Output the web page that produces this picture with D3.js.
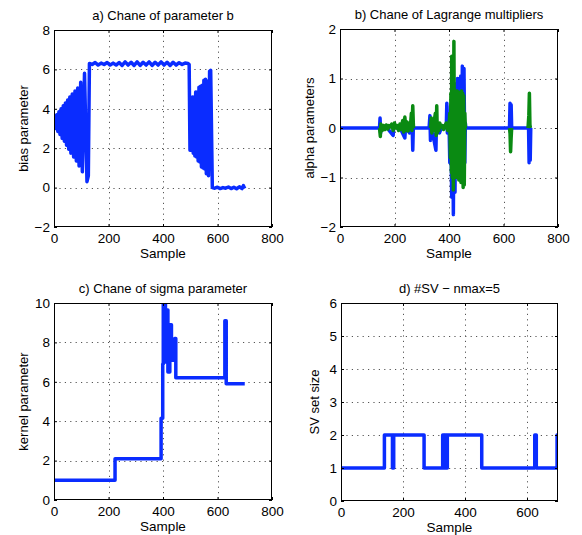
<!DOCTYPE html>
<html>
<head>
<meta charset="utf-8">
<script src="https://cdn.jsdelivr.net/npm/d3@7"></script>
<style>
  body { margin: 0; background: #fff; }
  text { font-family: "Liberation Sans", Arial, Helvetica, sans-serif; fill: #000; }
</style>
</head>
<body>
<script>
"use strict";

// a) bias parameter b
let aX = [0, 3, 6, 10, 14, 18, 22, 26, 30, 34, 38, 42, 46, 50, 54, 58, 62, 67, 72, 77, 82, 87, 92, 98, 104, 112, 121, 126, 130,
  140, 151, 162, 173, 184, 195, 206, 217, 228, 239, 250, 261, 272, 283, 294, 305, 316, 327, 338, 349, 360, 371, 382, 393,
  404, 415, 426, 437, 448, 459, 470, 481, 492, 496,
  499, 502, 505, 508, 511, 514, 517, 520, 523, 526, 529, 532, 535, 538, 541, 544, 547, 550, 553, 556, 559, 563, 567, 571, 575, 581,
  590, 600, 610, 620, 630, 640, 650, 660, 670, 680, 690, 695, 700];
let aY = [3.3, 3.55, 3.0, 3.7, 2.85, 3.85, 2.7, 4.0, 2.5, 4.15, 2.35, 4.3, 2.15, 4.45, 1.95, 4.6, 1.75, 4.75, 1.55, 4.9, 1.35, 5.05, 1.1, 5.35, 0.8, 5.8, 0.3, 0.6, 6.3,
  6.25, 6.35, 6.22, 6.32, 6.25, 6.35, 6.22, 6.32, 6.22, 6.35, 6.2, 6.38, 6.22, 6.36, 6.2, 6.38, 6.2, 6.36, 6.22, 6.38, 6.2, 6.36, 6.22, 6.38,
  6.22, 6.36, 6.2, 6.36, 6.22, 6.34, 6.25, 6.32, 6.3, 6.25,
  1.9, 4.5, 1.9, 4.6, 1.75, 4.6, 1.6, 4.85, 1.55, 4.85, 1.35, 5.1, 1.3, 5.15, 1.05, 5.2, 1.0, 5.45, 0.95, 5.5, 0.7, 5.4, 0.6, 5.9, 5.95, 0.0,
  -0.03, 0.02, -0.05, 0.0, -0.03, 0.03, -0.05, 0.02, -0.06, 0.04, -0.05, 0.1, -0.05];

// b) Lagrange multipliers, two series (null = no value)
let bX1 = [0, 145, 147, 149, 151, 175, 180, 195, 197, 210, 225, 238, 241, 255, 265, 267, 269, 327, 330, 332, 335, 340, 352, 354,
  365, 375, 390, 392, 394, 400, 403, 406, 410, 413, 416, 419, 422, 425, 428, 431, 434, 437, 440, 443, 446, 449, 452, 455, 458,
  460, 462, 622, 624, 626, 628, 630, 692, 694, 696, 698, 700];
let bY1 = [0, 0, 0.2, -0.1, 0, 0.03, -0.05, -0.15, 0.05, 0, -0.05, -0.2, 0.05, -0.1, 0, -0.45, 0, 0, 0.25, -0.25, 0.1, -0.1, -0.45, 0.1,
  -0.1, 0.05, 0, 0.5, -0.1, 0.1, -0.7, 0.45, -1.4, 0.9, -1.75, 0.9, -1.3, 0.8, -0.9, 1.0, -0.8, 1.0, -0.9, 1.05, -0.8, 1.25, -0.9, 1.2, -0.7,
  0.1, 0, 0, 0.5, -0.1, 0.47, 0, 0, -0.7, 0.05, -0.65, 0];
let bX2 = [145, 148, 150, 155, 160, 165, 170, 175, 180, 185, 190, 195, 200, 205, 210, 215, 220, 225, 230, 234, 238, 242, 246, 250,
  254, 258, 262, 264, 267, 269, 270, 271,
  332, 335, 337, 340, 343, 346, 350, 353, 355, 357, 360, 363, 366, 370, 375, 380, 385, 390, 395, 400, 403, 405, 407, 409, 410,
  412, 414, 416, 418, 420, 422, 424, 426, 428, 430, 432, 434, 436, 438, 440, 442, 444, 446, 448, 450, 452, 454, 456, 458, 460, 461,
  622, 624, 626, 628, 630, 631,
  690, 693, 695, 697, 699];
let bY2 = [0, -0.17, 0.08, -0.05, 0.05, -0.03, 0.06, -0.02, 0.05, 0.02, 0.08, -0.05, 0.1, 0.0, 0.05, -0.05, 0.08, -0.03, 0.15, -0.08,
  0.22, -0.05, 0.12, -0.06, 0.1, 0.0, 0.3, -0.05, 0.45, 0.1, 0, null,
  0, 0.2, -0.1, 0.1, -0.05, 0.15, 0.3, -0.15, 0.45, -0.1, 0.1, -0.05, 0.1, 0.02, 0.05, -0.03, 0.05, 0.1, -0.05, 0.05, 0.3, -0.6,
  0.7, -0.9, 1.45, -1.0, 0.7, -1.25, 1.75, -0.9, 0.75, -1.0, 0.7, -0.95, 0.75, -1.0, 0.7, -1.05, 0.72, -1.0, 0.7, -1.1, 0.75, -1.05,
  0.7, -1.2, 0.65, -1.15, 0.3, 0, null,
  0, -0.1, -0.48, -0.2, 0, null,
  0, 0.25, 0.7, 0.05, 0];

// c) kernel parameter sigma (step values)
let cX = [0, 224, 393, 399, 401, 409, 412, 418, 425, 431, 443, 447, 627, 632, 700];
let cY = [1, 2.1, 4.15, 6.9, 10, 7.0, 9.65, 6.5, 8.9, 7.1, 8.2, 6.2, 9.1, 5.9, 5.9];

// d) SV set size (step values)
let dX = [0, 140, 166, 170, 268, 328, 332, 336, 339, 343, 454, 625, 630, 697, 700];
let dY = [1, 2, 1, 2, 1, 2, 1, 2, 1, 2, 1, 2, 1, 2, 2];

let ticksX800 = [0, 200, 400, 600, 800];
let ticksX700 = [0, 200, 400, 600];
let ticksA = [-2, 0, 2, 4, 6, 8];
let ticksB = [-2, -1, 0, 1, 2];
let ticksC = [0, 2, 4, 6, 8, 10];
let ticksD = [0, 1, 2, 3, 4, 5, 6];

const BLUE = "#0a2cff";
const GREEN = "#0a8a12";

let svg = d3.select("body").append("svg")
  .attr("width", 582)
  .attr("height", 535);

function toPts(xs, ys) {
  return xs.map((v, i) => ({ x: v, y: ys[i] }));
}

let panel = (cfg) => {
  let x = d3.scaleLinear().domain(cfg.xDomain).range([cfg.left, cfg.right]);
  let y = d3.scaleLinear().domain(cfg.yDomain).range([cfg.bottom, cfg.top]);
  let w = cfg.right - cfg.left, h = cfg.bottom - cfg.top;
  let g = svg.append("g");

  // dotted grid
  let grid = g.append("g").attr("stroke", "#555").attr("stroke-width", 1).attr("stroke-dasharray", "1.2,4.2");
  grid.selectAll(".gx").data(cfg.xTicks.filter(t => t > cfg.xDomain[0] && t < cfg.xDomain[1])).enter()
    .append("line")
    .attr("x1", d => Math.round(x(d)) + 0.5).attr("x2", d => Math.round(x(d)) + 0.5)
    .attr("y1", cfg.top).attr("y2", cfg.bottom);
  grid.selectAll(".gy").data(cfg.yTicks.filter(t => t > cfg.yDomain[0] && t < cfg.yDomain[1])).enter()
    .append("line")
    .attr("y1", d => Math.round(y(d)) + 0.5).attr("y2", d => Math.round(y(d)) + 0.5)
    .attr("x1", cfg.left).attr("x2", cfg.right);

  let clipId = "clip-" + cfg.name;
  g.append("clipPath").attr("id", clipId)
    .append("rect").attr("x", cfg.left).attr("y", cfg.top).attr("width", w).attr("height", h);

  let line = d3.line()
    .defined(d => d.y != null)
    .x(d => x(d.x)).y(d => y(d.y))
    .curve(cfg.step ? d3.curveStepAfter : d3.curveLinear);

  cfg.series.forEach((s) => {
    g.append("path")
      .datum(toPts(s.xs, s.ys))
      .attr("clip-path", "url(#" + clipId + ")")
      .attr("fill", "none")
      .attr("stroke", s.color)
      .attr("stroke-width", 3.5)
      .attr("stroke-linejoin", "round")
      .attr("d", line);
  });

  // axes, ticks inward on all sides
  let fmt = d3.format("");
  let bottom = g.append("g").attr("transform", `translate(0,${cfg.bottom})`)
    .call(d3.axisBottom(x).tickValues(cfg.xTicks).tickSizeInner(-3).tickSizeOuter(0).tickPadding(6).tickFormat(fmt));
  let left = g.append("g").attr("transform", `translate(${cfg.left},0)`)
    .call(d3.axisLeft(y).tickValues(cfg.yTicks).tickSizeInner(-3).tickSizeOuter(0).tickPadding(4).tickFormat(fmt));
  let top = g.append("g").attr("transform", `translate(0,${cfg.top})`)
    .call(d3.axisTop(x).tickValues(cfg.xTicks).tickSizeInner(-3).tickSizeOuter(0).tickFormat(""));
  let right = g.append("g").attr("transform", `translate(${cfg.right},0)`)
    .call(d3.axisRight(y).tickValues(cfg.yTicks).tickSizeInner(-3).tickSizeOuter(0).tickFormat(""));
  [bottom, left, top, right].forEach((a) => {
    a.select(".domain").remove();
    a.selectAll("text").style("font-size", "13.5px").style("font-family", "Liberation Sans, Arial, sans-serif");
  });

  g.append("rect")
    .attr("x", cfg.left + 0.5).attr("y", cfg.top + 0.5)
    .attr("width", w - 1).attr("height", h - 1)
    .attr("fill", "none").attr("stroke", "#000").attr("stroke-width", 1);

  g.append("text")
    .attr("x", (cfg.left + cfg.right) / 2).attr("y", cfg.top - 10.5)
    .attr("text-anchor", "middle").style("font-size", "13px")
    .text(cfg.title);
  g.append("text")
    .attr("x", (cfg.left + cfg.right) / 2).attr("y", cfg.bottom + 31)
    .attr("text-anchor", "middle").style("font-size", "13.5px")
    .text("Sample");
  g.append("text")
    .attr("transform", `translate(${cfg.ylabelX},${(cfg.top + cfg.bottom) / 2}) rotate(-90)`)
    .attr("text-anchor", "middle").attr("dy", "0.35em").style("font-size", "13px")
    .text(cfg.ylabel);
};

panel({
  name: "a", left: 54, right: 272, top: 30, bottom: 227,
  xDomain: [0, 800], yDomain: [-2, 8], xTicks: ticksX800, yTicks: ticksA,
  title: "a) Chane of parameter b", ylabel: "bias parameter", ylabelX: 23,
  series: [{ xs: aX, ys: aY, color: BLUE }]
});
panel({
  name: "b", left: 340, right: 558, top: 29, bottom: 227,
  xDomain: [0, 800], yDomain: [-2, 2], xTicks: ticksX800, yTicks: ticksB,
  title: "b) Chane of Lagrange multipliers", ylabel: "alpha parameters", ylabelX: 309,
  series: [{ xs: bX1, ys: bY1, color: BLUE }, { xs: bX2, ys: bY2, color: GREEN }]
});
panel({
  name: "c", left: 54, right: 272, top: 303, bottom: 500, step: true,
  xDomain: [0, 800], yDomain: [0, 10], xTicks: ticksX800, yTicks: ticksC,
  title: "c) Chane of sigma parameter", ylabel: "kernel parameter", ylabelX: 23,
  series: [{ xs: cX, ys: cY, color: BLUE }]
});
panel({
  name: "d", left: 341, right: 558, top: 303, bottom: 501, step: true,
  xDomain: [0, 700], yDomain: [0, 6], xTicks: ticksX700, yTicks: ticksD,
  title: "d) #SV \u2212 nmax=5", ylabel: "SV set size", ylabelX: 314,
  series: [{ xs: dX, ys: dY, color: BLUE }]
});
</script>
</body>
</html>
